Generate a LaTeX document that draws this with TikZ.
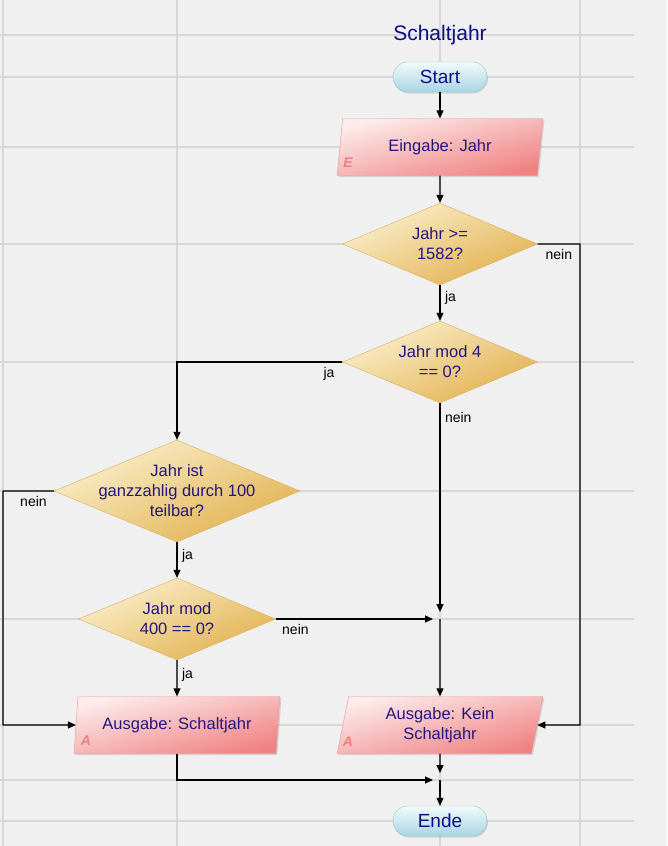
\documentclass[tikz,border=0pt]{standalone}
\usepackage{fontspec}
\setmainfont{Liberation Sans}
\usepackage{xcolor}
\usepackage{tikz}
\usetikzlibrary{shapes.geometric,arrows.meta,positioning,shadows}

\definecolor{bggray}{RGB}{240,240,240}
\definecolor{gridgray}{RGB}{215,215,215}
\definecolor{navytext}{RGB}{34,22,128}
\definecolor{titleblue}{RGB}{12,12,132}
\definecolor{pilltop}{RGB}{242,250,252}
\definecolor{pillbot}{RGB}{168,213,228}
\definecolor{pillline}{RGB}{150,194,210}
\definecolor{iotop}{RGB}{253,236,236}
\definecolor{iobot}{RGB}{240,130,130}
\definecolor{ioline}{RGB}{234,150,150}
\definecolor{iotag}{RGB}{236,128,132}
\definecolor{condtop}{RGB}{250,240,205}
\definecolor{condbot}{RGB}{226,176,78}
\definecolor{condline}{RGB}{214,176,96}

\newcommand{\flowfont}{\fontsize{16.5}{20}\selectfont}

\begin{document}
\begin{tikzpicture}[
    x=1pt, y=-1pt,
    >={Triangle[length=8pt,width=7pt]},
    grid/.style={gridgray, line width=1.4pt},
    terminal/.style={draw=pillline, rounded corners=15pt, minimum width=94pt, minimum height=30pt,
        top color=pilltop, bottom color=pillbot, text=titleblue, font=\fontsize{19}{22}\selectfont,
        drop shadow={shadow xshift=1pt, shadow yshift=-1.5pt, opacity=.25}},
    io/.style={trapezium, trapezium left angle=79, trapezium right angle=101, trapezium stretches=true,
        draw=ioline, minimum width=206pt, minimum height=57pt, inner sep=0pt,
        top color=iotop, bottom color=iobot, shading angle=15, text=navytext, align=center, font=\flowfont,
        drop shadow={shadow xshift=1.5pt, shadow yshift=-1.5pt, opacity=.25}},
    cond/.style={diamond, draw=condline, inner sep=0pt, top color=condtop, bottom color=condbot, shading angle=25},
    condtext/.style={text=navytext, align=center, font=\flowfont},
    tag/.style={text=iotag, font=\fontsize{14}{14}\selectfont\bfseries\itshape},
    arrow/.style={->, line width=1.1pt},
    tojoin/.style={arrow, shorten >=7pt},
    lbl/.style={font=\fontsize{14}{16}\selectfont, inner sep=4.5pt}
]
\useasboundingbox (0,0) rectangle (667,846);

% === Background grid ===
\fill[bggray] (0,0) rectangle (667,846);
\foreach \gy in {35,77,147,244,362,491,619,725,780,821} {
    \draw[grid] (0,\gy) -- (634,\gy);
}
\foreach \gx in {3,177,440,580} {
    \draw[grid] (\gx,0) -- (\gx,846);
}

% === Nodes ===
\node[text=titleblue, font=\fontsize{21}{24}\selectfont] (title) at (440,35) {Schaltjahr};
\node[terminal] (start) at (440,77) {Start};
\node[io] (inp) at (440,147) {Eingabe: Jahr};
\node[tag] (tagE) at (348,163) {E};

% decisions
\node[cond, minimum width=195pt, minimum height=82pt] (d1) at (440,244) {};
\node[condtext] (d1t) at (d1) {Jahr >=\\1582?};
\node[cond, minimum width=195pt, minimum height=82pt] (d2) at (440,362) {};
\node[condtext] (d2t) at (d2) {Jahr mod 4\\== 0?};
\node[cond, minimum width=246pt, minimum height=102pt] (d3) at (177,491) {};
\node[condtext] (d3t) at (d3) {Jahr ist\\ganzzahlig durch 100\\teilbar?};
\node[cond, minimum width=197pt, minimum height=82pt] (d4) at (177,619) {};
\node[condtext] (d4t) at (d4) {Jahr mod\\400 == 0?};

% outputs
\node[io] (aus) at (177,725) {Ausgabe: Schaltjahr};
\node[tag] (tagA1) at (86,741) {A};
\node[io] (kein) at (440,725) {Ausgabe: Kein\\Schaltjahr};
\node[tag] (tagA2) at (348,742) {A};

\node[terminal] (ende) at (440,821) {Ende};

% junctions and corners
\coordinate (j1) at (440,619);
\coordinate (j2) at (440,780);
\coordinate (rgt) at (580,725);
\coordinate (lft) at (3,725);

% === Connectors ===
\draw[arrow] (start) -- (inp);
\draw[arrow] (inp) -- (d1);
\draw[arrow] (d1.south) -- node[lbl, right, pos=0.35] {ja} (d2.north);
\draw[arrow] (d1.east) -| node[lbl, below, pos=0.25] {nein} (rgt) -- (kein.east);
\draw[arrow] (d2.west) -| node[lbl, below, pos=0.04] {ja} (d3.north);
\draw[tojoin] (d2.south) -- node[lbl, right, pos=0.065] {nein} (j1);
\draw[arrow] (j1) -- (kein.north);
\draw[arrow] (d3.south) -- node[lbl, right, pos=0.39] {ja} (d4.north);
\draw[arrow] (d3.west) -| node[lbl, below, pos=0.2] {nein} (lft) -- (aus.west);
\draw[tojoin] (d4.east) -- node[lbl, below, pos=0.12] {nein} (j1);
\draw[arrow] (d4.south) -- node[lbl, right, pos=0.4] {ja} (aus.north);
\draw[tojoin] (aus.south) |- (j2);
\draw[tojoin] (kein.south) -- (j2);
\draw[arrow] (j2) -- (ende.north);

\end{tikzpicture}
\end{document}
